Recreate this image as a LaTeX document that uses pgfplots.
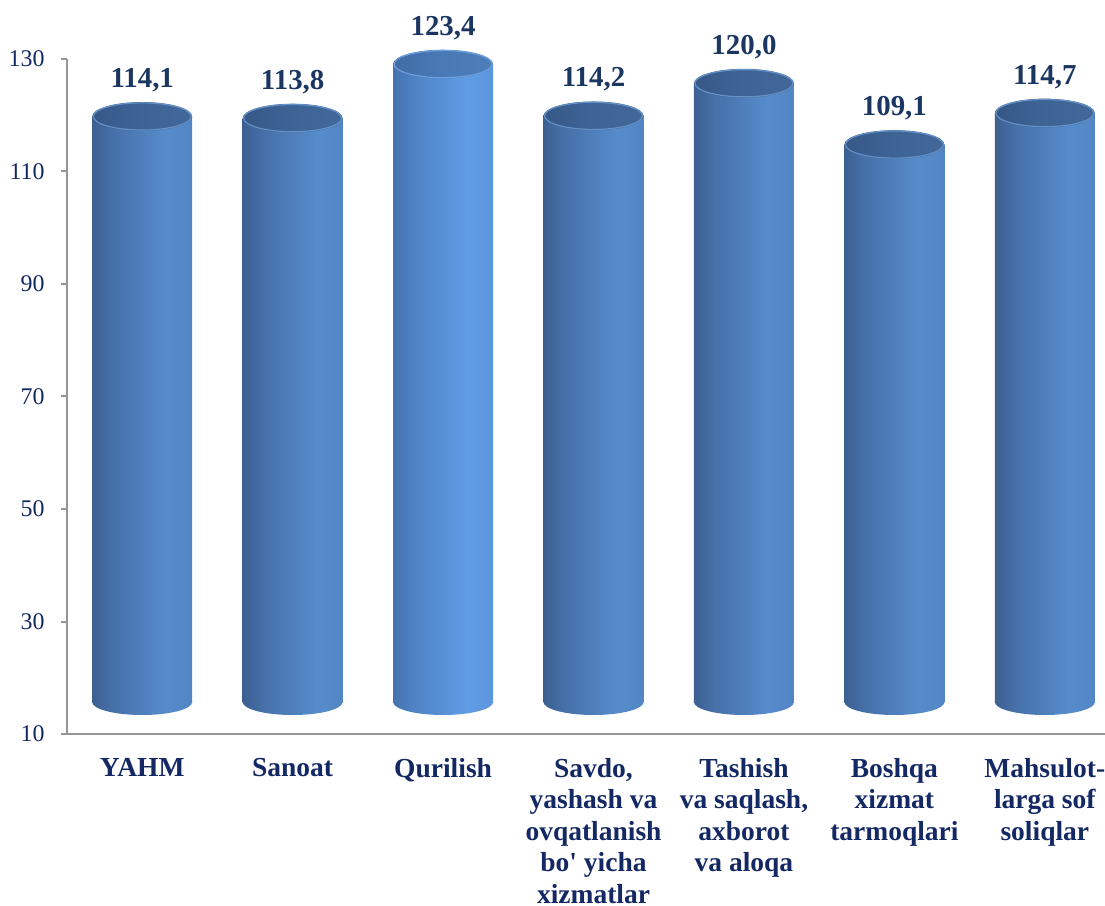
\documentclass[border=0pt]{standalone}
\usepackage{pgfplots}
\pgfplotsset{compat=1.18}
\usepackage{fontspec}
\setmainfont{Liberation Serif}
\newfontfamily\plainserif{Liberation Serif}

\definecolor{navy}{RGB}{20,40,100}
\definecolor{lblblue}{RGB}{28,54,98}
\definecolor{axgray}{RGB}{150,150,150}
% cylinder body
\definecolor{cA}{RGB}{28,40,62}
\definecolor{cF}{RGB}{46,72,110}
\definecolor{cB}{RGB}{70,112,168}
\definecolor{cC}{RGB}{86,140,204}
\definecolor{cD}{RGB}{78,126,186}
\definecolor{cE}{RGB}{60,98,150}
% highlighted cylinder (Qurilish)
\definecolor{qA}{RGB}{36,56,90}
\definecolor{qF}{RGB}{56,92,142}
\definecolor{qB}{RGB}{78,130,196}
\definecolor{qC}{RGB}{96,156,230}
\definecolor{qD}{RGB}{88,144,214}
\definecolor{qE}{RGB}{66,108,166}
% tops
\definecolor{tA}{RGB}{46,76,120}
\definecolor{tB}{RGB}{62,100,150}
\definecolor{tC}{RGB}{70,108,158}
\definecolor{uA}{RGB}{56,94,146}
\definecolor{uB}{RGB}{74,122,182}
\definecolor{uC}{RGB}{82,130,190}
\definecolor{rim}{RGB}{100,145,200}
\definecolor{rimq}{RGB}{110,160,225}

\pgfdeclarehorizontalshading{cyl}{100bp}{color(0bp)=(cA); color(10bp)=(cF); color(35bp)=(cB); color(62bp)=(cC); color(88bp)=(cD); color(100bp)=(cE)}
\pgfdeclarehorizontalshading{cylq}{100bp}{color(0bp)=(qA); color(10bp)=(qF); color(35bp)=(qB); color(62bp)=(qC); color(88bp)=(qD); color(100bp)=(qE)}
\pgfdeclarehorizontalshading{cyltop}{100bp}{color(0bp)=(tA); color(50bp)=(tB); color(100bp)=(tC)}
\pgfdeclarehorizontalshading{cyltopq}{100bp}{color(0bp)=(uA); color(50bp)=(uB); color(100bp)=(uC)}

\pgfdeclareplotmark{topell}{%
  \pgfpathellipse{\pgfpointorigin}{\pgfqpoint{25bp}{0pt}}{\pgfqpoint{0pt}{7.2bp}}%
  \pgfshadepath{cyltop}{0}\pgfusepath{}%
  \pgfsetstrokecolor{rim}\pgfsetlinewidth{0.6bp}%
  \pgfpathellipse{\pgfpointorigin}{\pgfqpoint{24.5bp}{0pt}}{\pgfqpoint{0pt}{6.8bp}}%
  \pgfusepath{stroke}}
\pgfdeclareplotmark{topellq}{%
  \pgfpathellipse{\pgfpointorigin}{\pgfqpoint{25bp}{0pt}}{\pgfqpoint{0pt}{7.2bp}}%
  \pgfshadepath{cyltopq}{0}\pgfusepath{}%
  \pgfsetstrokecolor{rimq}\pgfsetlinewidth{0.6bp}%
  \pgfpathellipse{\pgfpointorigin}{\pgfqpoint{24.5bp}{0pt}}{\pgfqpoint{0pt}{6.8bp}}%
  \pgfusepath{stroke}}
\pgfdeclareplotmark{botell}{%
  \pgfpathellipse{\pgfpointorigin}{\pgfqpoint{25bp}{0pt}}{\pgfqpoint{0pt}{6.5bp}}%
  \pgfshadepath{cyl}{0}\pgfusepath{}}
\pgfdeclareplotmark{botellq}{%
  \pgfpathellipse{\pgfpointorigin}{\pgfqpoint{25bp}{0pt}}{\pgfqpoint{0pt}{6.5bp}}%
  \pgfshadepath{cylq}{0}\pgfusepath{}}

\pgfplotsset{
  cylbar/.style={ybar, bar width=50bp, bar shift=0pt, draw=none, shading=#1, yshift=16bp, forget plot},
}

\begin{document}
\begin{tikzpicture}
\begin{axis}[
    name=ax,
    scale only axis,
    width=519bp, height=337.5bp,
    xmin=-0.5, xmax=6.4,
    ymin=10, ymax=130,
    y coord trafo/.code={\pgfmathparse{#1-10}},
    y coord inv trafo/.code={\pgfmathparse{#1+10}},
    ytick={10,30,50,70,90,110,130},
    yticklabels={10,30,50,70,90,110,130},
    xtick={0,1,2,3,4,5,6},
    xticklabels={YAHM, Sanoat, Qurilish,
        {Savdo,\\yashash va\\ovqatlanish\\bo{\plainserif'} yicha\\xizmatlar},
        {Tashish\\va saqlash,\\axborot\\va aloqa},
        {Boshqa\\xizmat\\tarmoqlari},
        {Mahsulot-\\larga sof\\soliqlar}},
    axis x line*=bottom,
    axis y line*=left,
    axis line style={axgray, line width=1.2bp},
    tick align=outside,
    major tick length=3bp,
    xtick style={draw=none},
    ytick style={axgray, line width=1bp},
    /pgf/number format/assume math mode=true,
    yticklabel style={font=\fontsize{12}{14}\selectfont, text=navy, inner sep=0pt, xshift=-8bp},
    xticklabel style={font=\bfseries\fontsize{13.8}{15.75}\selectfont, text=navy, align=center, inner sep=0pt, yshift=-9bp},
    clip=false,
]
% bottoms of the cylinders
\addplot[forget plot, only marks, mark=botell, yshift=16bp] coordinates {(0,10)(1,10)(3,10)(4,10)(5,10)(6,10)};
\addplot[forget plot, only marks, mark=botellq, yshift=16bp] coordinates {(2,10)};
% cylinder bodies, one plot per bar so each gets its own shading
\addplot[cylbar=cyl]  coordinates {(0,114.1)};
\addplot[cylbar=cyl]  coordinates {(1,113.8)};
\addplot[cylbar=cylq] coordinates {(2,123.4)};
\addplot[cylbar=cyl]  coordinates {(3,114.2)};
\addplot[cylbar=cyl]  coordinates {(4,120.0)};
\addplot[cylbar=cyl]  coordinates {(5,109.1)};
\addplot[cylbar=cyl]  coordinates {(6,114.7)};
% tops
\addplot[only marks, mark=topell, yshift=16bp]
    coordinates {(0,114.1)(1,113.8)(3,114.2)(4,120.0)(5,109.1)(6,114.7)};
\addplot[only marks, mark=topellq, yshift=16bp]
    coordinates {(2,123.4)};
% value labels
\addplot[draw=none, mark=none, point meta=rawy,
    nodes near coords={\pgfmathprintnumber[use comma, fixed, fixed zerofill, precision=1]{\pgfplotspointmeta}},
    every node near coord/.append style={anchor=south, inner sep=0pt, yshift=28bp,
        font=\bfseries\fontsize{14.5}{16}\selectfont, text=lblblue}]
    coordinates {(0,114.1)(1,113.8)(2,123.4)(3,114.2)(4,120.0)(5,109.1)(6,114.7)};
\end{axis}
\pgfresetboundingbox
\path[use as bounding box] ([shift={(-33.5bp,-86bp)}]ax.south west) rectangle ([shift={(0bp,29.5bp)}]ax.north east);
\end{tikzpicture}
\end{document}
